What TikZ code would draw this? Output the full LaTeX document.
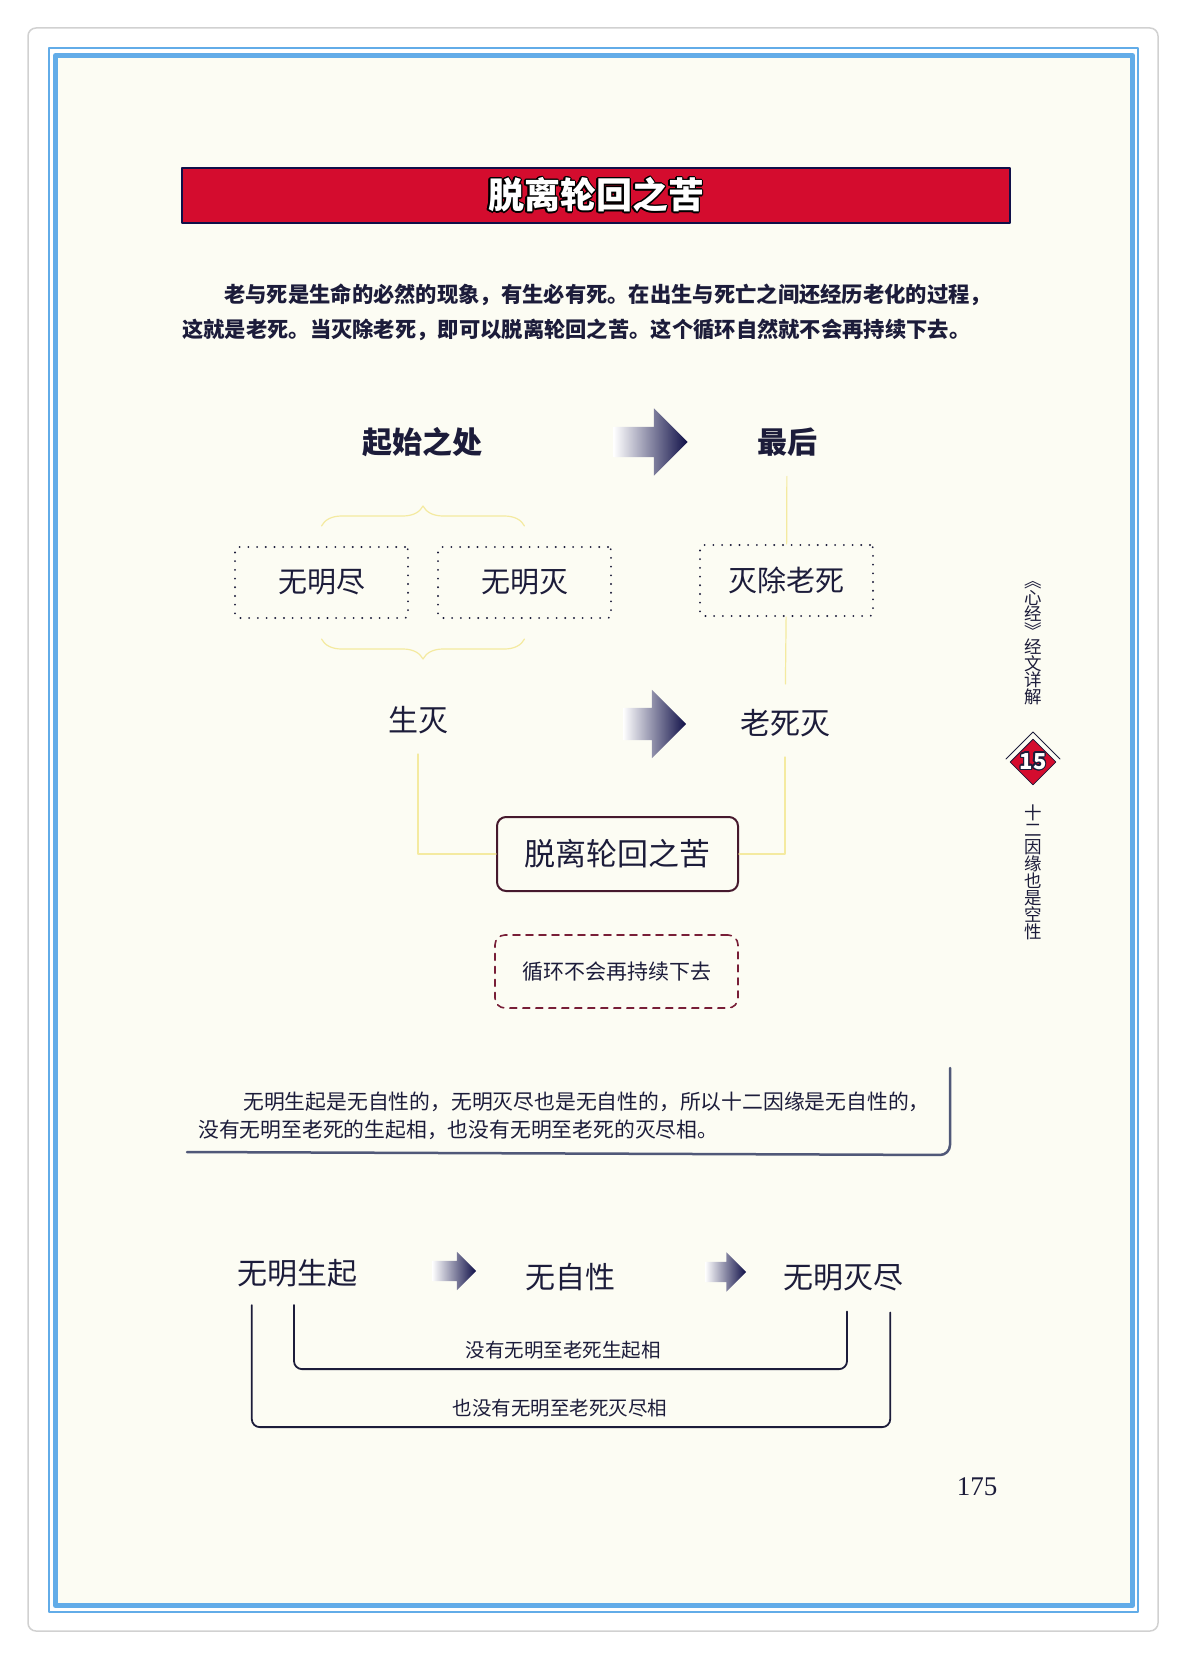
\documentclass[tikz,border=0pt]{standalone}
\usepackage{fontspec}
\setmainfont{Noto Sans CJK SC}
\newfontfamily\numfont{Liberation Serif}
\usepackage[copies]{contour}
\usepackage{tikz}
\usetikzlibrary{positioning}
\usetikzlibrary{calc}
\usetikzlibrary{shapes.arrows}
\usetikzlibrary{shapes.geometric}
\usetikzlibrary{decorations.pathreplacing}

\definecolor{ink}{RGB}{28,28,58}
\definecolor{paper}{RGB}{252,252,243}
\definecolor{frameblue}{RGB}{98,172,232}
\definecolor{barred}{RGB}{212,12,46}
\definecolor{faint}{RGB}{244,234,160}
\definecolor{boxred}{RGB}{120,30,55}
\definecolor{boxedge}{RGB}{70,25,45}
\definecolor{arrowink}{RGB}{16,16,72}
\definecolor{bracketgray}{RGB}{80,88,120}

\contourlength{1.3pt}

\begin{document}
\begin{tikzpicture}[x=1pt,y=-1pt,line cap=round,line join=round,
	every node/.style={text=ink,inner sep=0pt},
	head/.style={font=\bfseries\fontsize{30}{32}\selectfont},
	term/.style={font=\fontsize{30}{32}\selectfont},
	para/.style={font=\bfseries\fontsize{21.3}{23}\selectfont},
	note/.style={font=\fontsize{20.8}{22}\selectfont},
	small/.style={font=\fontsize{19.5}{21}\selectfont},
	dotbox/.style={draw=ink,line width=2pt,dash pattern=on 0.1pt off 8.6pt,rounded corners=3pt,minimum width=173pt,minimum height=71pt,font=\fontsize{29}{31}\selectfont},
	roundbox/.style={draw=boxedge,line width=2pt,rounded corners=9pt,minimum width=241pt,minimum height=74pt,font=\fontsize{31}{33}\selectfont},
	dashbox/.style={draw=boxred,line width=1.6pt,dash pattern=on 7pt off 6pt,rounded corners=10pt,minimum width=243pt,minimum height=73pt,font=\fontsize{21}{23}\selectfont},
	gradarrow/.style={single arrow,draw=none,inner xsep=0pt,inner ysep=#1,left color=white,middle color=arrowink!70,right color=arrowink},
	faintline/.style={faint,line width=1.2pt},
	bracket/.style={ink,line width=1.8pt,rounded corners=8pt},
	side/.style={align=center,font=\fontsize{17.5}{16.5}\selectfont}
	]
	
	% page and frame
	\fill[white] (0,0) rectangle (1188,1661);
	\useasboundingbox (0,0) rectangle (1188,1661);
	\draw[black!18,line width=1.5pt,rounded corners=8pt] (28,28) rectangle (1158,1631);
	\draw[frameblue,line width=1.5pt] (49,48) rectangle (1138,1612);
	\draw[frameblue,line width=5pt,fill=paper] (55.5,55.5) rectangle (1132.5,1605.5);
	
	% title bar
	\node[draw=arrowink,line width=1.2pt,fill=barred,minimum width=828pt,minimum height=55pt,text=white,font=\bfseries\fontsize{36}{38}\selectfont] (titlebar) at (596,195.5) {\contour{black}{脱离轮回之苦}};
	
	\node[para,anchor=west] (intro1) at (224,295) {老与死是生命的必然的现象，有生必有死。在出生与死亡之间还经历老化的过程，};
	\node[para,anchor=west] (intro2) at (182,330) {这就是老死。当灭除老死，即可以脱离轮回之苦。这个循环自然就不会再持续下去。};
	
	% upper diagram
	\node[head] (qishi) at (422,442) {起始之处};
	\node[head] (zuihou) at (787,442) {最后};
	\node[gradarrow=15pt,single arrow head extend=18.5pt,minimum height=74pt] (arrA) at (643,442) {};
	
	\node[dotbox] (wmjin) at (321.5,582.5) {无明尽};
	\node[dotbox] (wmmie) at (524.5,582.5) {无明灭};
	\node[dotbox] (miechu) at (786.5,580.5) {灭除老死};
	
	\node[term] (shengmie) at (418,720) {生灭};
	\node[term] (laosimie) at (785,723) {老死灭};
	\node[gradarrow=16pt,single arrow head extend=18pt,minimum height=63pt] (arrB) at (646.5,724) {};
	
	\node[roundbox] (tuoli) at (617.5,854) {脱离轮回之苦};
	\node[dashbox] (xunhuan) at (616.5,971.5) {循环不会再持续下去};
	
	\draw[faintline,decorate,decoration={brace,amplitude=20pt}] ([yshift=20pt]wmjin.north) -- ([yshift=20pt]wmmie.north);
	\draw[faintline,decorate,decoration={brace,amplitude=20pt,mirror}] ([yshift=-20pt]wmjin.south) -- ([yshift=-20pt]wmmie.south);
	\draw[faintline,shorten <=20pt] (zuihou) -- (miechu);
	\draw[faintline,shorten >=25pt] (miechu) -- (laosimie);
	\draw[faintline,shorten <=20pt] (shengmie.south) |- (tuoli.west);
	\draw[faintline,shorten <=20pt] (laosimie.south) |- (tuoli.east);
	
	% note
	\node[note,anchor=west] (noteA) at (243,1102) {无明生起是无自性的，无明灭尽也是无自性的，所以十二因缘是无自性的，};
	\node[note,anchor=west] (noteB) at (198,1130) {没有无明至老死的生起相，也没有无明至老死的灭尽相。};
	\draw[bracketgray,line width=2.5pt,rounded corners=10pt] (187,1152) -- (950,1155) -- (950,1068);
	
	% lower diagram
	\node[term] (wmsq) at (297,1273) {无明生起};
	\node[gradarrow=10pt,single arrow head extend=9pt,minimum height=44pt] (arrC) at (449,1271) {};
	\node[term] (wzx) at (570,1277) {无自性};
	\node[gradarrow=10pt,single arrow head extend=9.5pt,minimum height=41pt] (arrD) at (720.5,1272) {};
	\node[term] (wmmj) at (843,1278) {无明灭尽};
	
	\draw[bracket] ([xshift=-3pt,yshift=-18pt]wmsq.south) -- ++(0,64) -| ([xshift=4pt,yshift=-20pt]wmmj.south);
	\draw[bracket] ([xshift=15pt,yshift=-18pt]wmsq.south west) -- ++(0,122) -| ([xshift=-13pt,yshift=-21pt]wmmj.south east);
	\node[small] (shengqi) at (563,1350) {没有无明至老死生起相};
	\node[small] (miejin) at (560,1408) {也没有无明至老死灭尽相};
	
	% side tab
	\node[side] (booktitle) at (1033,643) {︽\\心\\经\\︾\\经\\文\\详\\解};
	\node[diamond,aspect=1,fill=barred,draw=ink,line width=0.8pt,minimum size=46pt,text=white,font=\bfseries\fontsize{22}{22}\selectfont] (secno) at (1033,762) {\contour{ink}{15}};
	\draw[ink,line width=1pt] ([xshift=-27pt,yshift=3pt]secno.center) -- ([yshift=30pt]secno.center) -- ([xshift=27pt,yshift=3pt]secno.center);
	\node[side,font=\fontsize{17.5}{17}\selectfont] (chapter) at (1033,872) {十\\二\\因\\缘\\也\\是\\空\\性};
	
	\node[font=\numfont\fontsize{27}{27}\selectfont] (pageno) at (977,1487) {175};
\end{tikzpicture}
\end{document}
